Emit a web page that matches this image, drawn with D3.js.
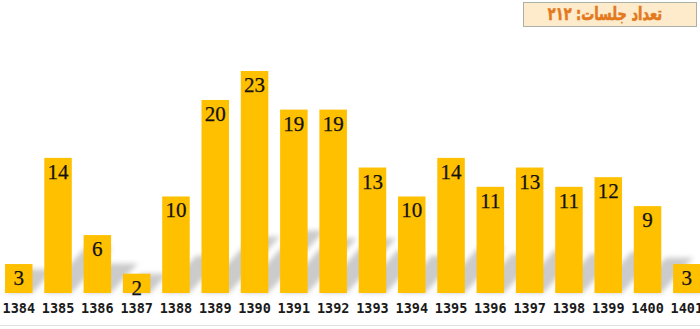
<!DOCTYPE html>
<html><head><meta charset="utf-8">
<script src="https://cdn.jsdelivr.net/npm/d3@7"></script>
<style>html,body{margin:0;padding:0;background:#fff;}svg{display:block;}</style>
</head><body>
<script>
const years = ["1384","1385","1386","1387","1388","1389","1390","1391","1392","1393","1394","1395","1396","1397","1398","1399","1400","1401"];
const sessions = [3,14,6,2,10,20,23,19,19,13,10,14,11,13,11,12,9,3];
const titleText = "تعداد جلسات: ۲۱۲";

const W = 700, H = 329;
const svg = d3.select("body").append("svg").attr("width", W).attr("height", H);
const defs = svg.append("defs");
defs.append("filter").attr("id","blur").attr("x","-50%").attr("y","-50%").attr("width","200%").attr("height","200%")
  .append("feGaussianBlur").attr("stdDeviation", 2.8);

const x = d3.scaleBand().domain(years).range([-0.9, 706.5]).paddingInner(0.3).paddingOuter(0.15);
const y = d3.scaleLinear().domain([0, 23]).range([293, 71]);
const base = y(0);

// shadows
const sh = svg.append("g").attr("filter","url(#blur)");
years.forEach((yr, i) => {
  const h = base - y(sessions[i]);
  const dy = Math.min(h, 18 + 0.2 * h);
  const dx = 0.9 * dy;
  const x0 = x(yr), x1 = x0 + x.bandwidth();
  sh.append("path")
    .attr("d", `M${x0},${base} L${x1},${base} L${x1+dx},${base-dy} L${x0+dx},${base-dy} Z`)
    .attr("fill", "#cbcbcb");
});

// bars
svg.append("g").selectAll("rect").data(sessions).join("rect")
  .attr("x", (d,i) => x(years[i]))
  .attr("y", d => y(d))
  .attr("width", x.bandwidth())
  .attr("height", d => base - y(d))
  .attr("fill", "#FFC000");

// value labels
svg.append("g").selectAll("text").data(sessions).join("text")
  .attr("x", (d,i) => x(years[i]) + x.bandwidth()/2)
  .attr("y", d => y(d) + 21)
  .attr("text-anchor", "middle")
  .attr("font-family", "'Liberation Serif','Times New Roman',serif")
  .attr("font-size", 21)
  .attr("fill", "#111")
  .attr("stroke", "#111").attr("stroke-width", 0.25)
  .text(d => d);

// axis labels
const axis = d3.axisBottom(x).tickSize(0).tickPadding(0);
const ax = svg.append("g").attr("transform", `translate(0,313)`).call(axis);
ax.select(".domain").remove();
ax.selectAll("text")
  .attr("y", 0)
  .attr("dy", "0")
  .attr("font-family", "'DejaVu Sans Mono',monospace")
  .attr("font-size", 13.5)
  .attr("font-weight", "bold")
  .attr("fill", "#1a1a1a");

// bottom line
svg.append("line").attr("x1",0).attr("x2",W).attr("y1",325.5).attr("y2",325.5)
  .attr("stroke","#e2e2e2").attr("stroke-width",1);

// title box
svg.append("rect").attr("x",523.5).attr("y",2.5).attr("width",173).attr("height",24)
  .attr("fill","#FDEBCB").attr("stroke","#a9b0a6").attr("stroke-width",1);
svg.append("g").attr("transform","translate(605,14) scale(0.72,1)")
  .append("text").attr("x",0).attr("y",0).attr("dominant-baseline","central")
  .attr("text-anchor","middle").attr("direction","rtl")
  .attr("font-family","'DejaVu Sans',sans-serif").attr("font-weight","bold").attr("font-size",18)
  .attr("fill","#E3781D").attr("stroke","#E3781D").attr("stroke-width",0.6)
  .text(titleText);
</script>
</body></html>
